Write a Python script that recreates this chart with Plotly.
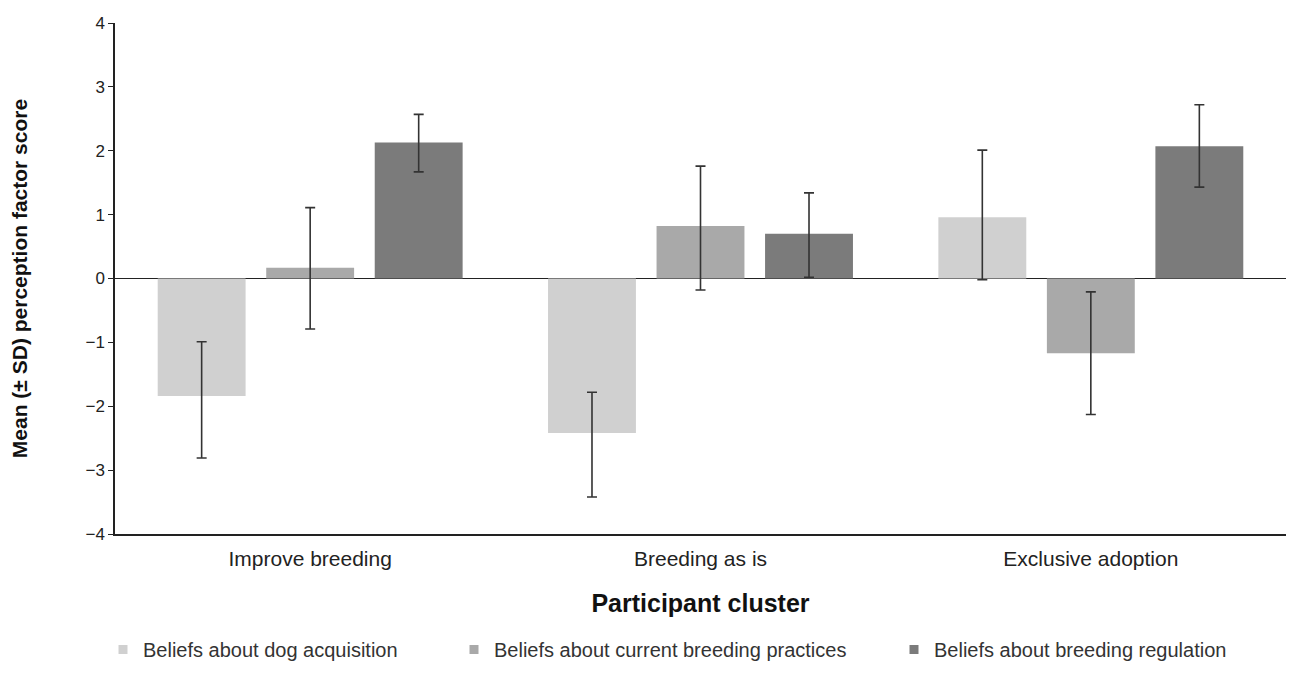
import plotly.graph_objects as go

clusters = ["Improve breeding", "Breeding as is", "Exclusive adoption"]
series_names = ["Beliefs about dog acquisition",
                "Beliefs about current breeding practices",
                "Beliefs about breeding regulation"]
means = [
    [-1.84, -2.42, 0.96],
    [0.17, 0.82, -1.17],
    [2.13, 0.70, 2.07],
]
sd_plus = [
    [0.85, 0.64, 1.05],
    [0.94, 0.94, 0.96],
    [0.44, 0.64, 0.65],
]
sd_minus = [
    [0.97, 1.00, 0.98],
    [0.96, 1.00, 0.96],
    [0.46, 0.68, 0.64],
]
colors = ["#d0d0d0", "#a9a9a9", "#7b7b7b"]
y_ticks = [-4, -3, -2, -1, 0, 1, 2, 3, 4]

fig = go.Figure()
legend_ids = ["legend", "legend2", "legend3"]
for i, name in enumerate(series_names):
    fig.add_trace(go.Bar(
        x=clusters, y=means[i], name=name,
        marker=dict(color=colors[i], line=dict(width=0)),
        error_y=dict(type="data", symmetric=False, array=sd_plus[i],
                     arrayminus=sd_minus[i], color="#333333",
                     thickness=1.6, width=5),
        showlegend=False,
    ))
    # legend-only entry with a small square swatch
    fig.add_trace(go.Scatter(
        x=[None], y=[None], mode="markers", name=name,
        marker=dict(symbol="square", size=9, color=colors[i]),
        legend=legend_ids[i], showlegend=True,
    ))

W, L, R = 1278, 107, 0
PW = W - L - R
font_family = "Liberation Sans, Arial, sans-serif"
leg_common = dict(orientation="h", yanchor="middle", y=-0.226, xanchor="left",
                  font=dict(size=20, color="#333333", family=font_family),
                  bgcolor="rgba(0,0,0,0)", itemwidth=30, borderwidth=0)
fig.update_layout(
    width=W, height=657,
    margin=dict(l=L, r=R, t=15, b=131, autoexpand=False),
    paper_bgcolor="white", plot_bgcolor="white",
    barmode="group", bargap=0.166, bargroupgap=0.19,
    font=dict(family=font_family, color="#222222"),
    showlegend=True,
    legend=dict(**leg_common, x=(95 - L) / PW),
    legend2=dict(**leg_common, x=(446 - L) / PW),
    legend3=dict(**leg_common, x=(886 - L) / PW),
    xaxis=dict(
        automargin=False,
        showline=True, linecolor="#222222", linewidth=1.5,
        ticks="", tickfont=dict(size=21, color="#222222"),
        ticklabelstandoff=5,
        title=dict(text="<b>Participant cluster</b>", font=dict(size=25, color="#111111"),
                   standoff=26),
        showgrid=False, zeroline=False,
    ),
    yaxis=dict(
        automargin=False,
        range=[-4, 4], tickvals=y_ticks,
        showline=True, linecolor="#222222", linewidth=1.5,
        ticks="outside", ticklen=5, tickcolor="#222222",
        tickfont=dict(size=17, color="#222222"),
        showgrid=False, zeroline=True, zerolinecolor="#222222", zerolinewidth=1.3,
        title=dict(text="<b>Mean (± SD) perception factor score</b>",
                   font=dict(size=21, color="#111111"), standoff=60),
    ),
)

fig.write_html("out.html")
